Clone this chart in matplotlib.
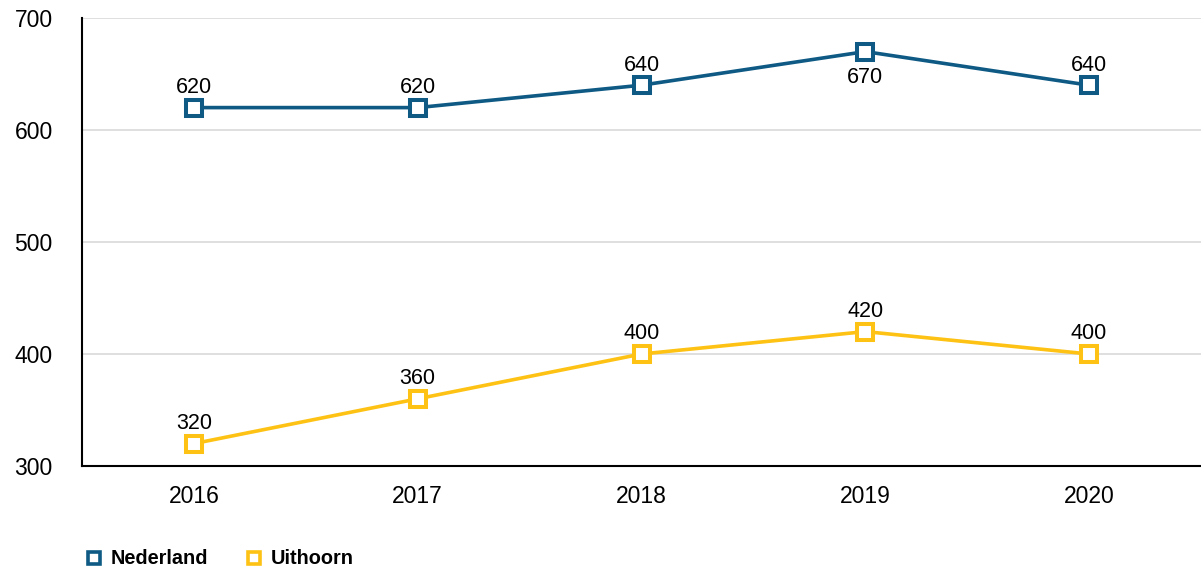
import matplotlib
matplotlib.use("Agg")
import matplotlib.pyplot as plt
from matplotlib.lines import Line2D

plt.rcParams['font.family'] = ['Liberation Sans', 'DejaVu Sans']

years = ["2016", "2017", "2018", "2019", "2020"]
nederland = [620, 620, 640, 670, 640]
uithoorn = [320, 360, 400, 420, 400]
label_below_nl = [False, False, False, True, False]

blue = "#0e5a85"
yellow = "#fdc214"

fig = plt.figure(figsize=(12.01, 5.69), dpi=100)
ax = fig.add_axes([82 / 1201, 1 - 466 / 569, 1 - 82 / 1201, (466 - 18) / 569])

x = list(range(len(years)))
for vals, col in ((nederland, blue), (uithoorn, yellow)):
    ax.plot(x, vals, color=col, lw=2.6, marker="s", markersize=11.5,
            markerfacecolor="white", markeredgecolor=col, markeredgewidth=2.9,
            zorder=3, clip_on=False)

for i, v in enumerate(nederland):
    off = -19 if label_below_nl[i] else 14.5
    ax.annotate(str(v), (i, v), xytext=(0, off), textcoords="offset points",
                ha="center", va="center", fontsize=15.5, color="black", zorder=4)
for i, v in enumerate(uithoorn):
    ax.annotate(str(v), (i, v), xytext=(0, 14.5), textcoords="offset points",
                ha="center", va="center", fontsize=15.5, color="black", zorder=4)

ax.set_xlim(-0.5, len(years) - 0.5)
ax.set_ylim(300, 700)
ax.set_yticks([300, 400, 500, 600, 700])
ax.set_xticks(x)
ax.set_xticklabels(years)
ax.tick_params(axis="both", length=0, labelsize=16.5, colors="black")
ax.tick_params(axis="x", pad=14)
ax.tick_params(axis="y", pad=21)

ax.grid(axis="y", color="#d9d9d9", lw=1.2)
ax.set_axisbelow(True)
for s in ("top", "right"):
    ax.spines[s].set_visible(False)
ax.spines["left"].set_color("black")
ax.spines["bottom"].set_color("black")
ax.spines["left"].set_linewidth(1.5)
ax.spines["bottom"].set_linewidth(1.5)

handles = [
    Line2D([], [], ls="none", marker="s", markersize=8.5, markerfacecolor="white",
           markeredgecolor=blue, markeredgewidth=2.6, label="Nederland"),
    Line2D([], [], ls="none", marker="s", markersize=8.5, markerfacecolor="white",
           markeredgecolor=yellow, markeredgewidth=2.6, label="Uithoorn"),
]
fig.legend(handles=handles, loc="center left", bbox_to_anchor=(78 / 1201, 1 - 559 / 569),
           ncol=2, frameon=False, prop={"weight": "bold", "size": 14.3},
           handlelength=0.8, handletextpad=0.45, columnspacing=1.9, borderaxespad=0)

fig.savefig("out.png", dpi=100)
